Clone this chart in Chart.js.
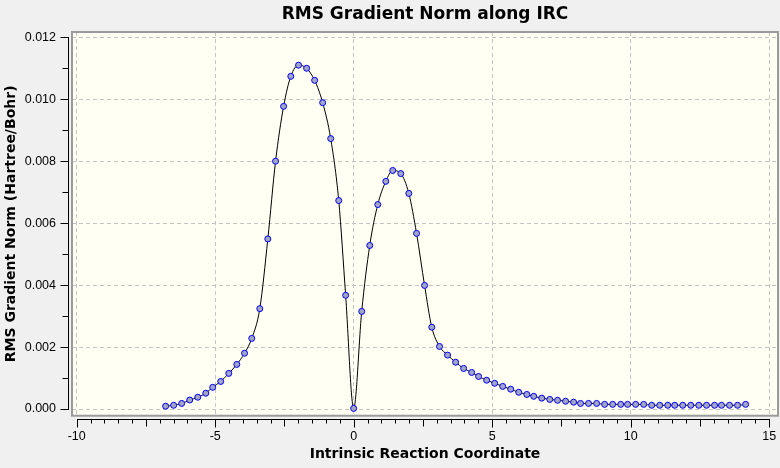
<!DOCTYPE html>
<html>
<head>
<title>RMS Gradient Norm along IRC</title>
<style>
    html, body {
        margin: 0;
        padding: 0;
        background-color: #f0f0f0;
    }
    #wrap {
        width: 780px;
        height: 468px;
    }
</style>
</head>
<body>
<div id="wrap"><canvas id="myChart" width="780" height="468"></canvas></div>
<script src="https://cdn.jsdelivr.net/npm/chart.js@4.4.0/dist/chart.umd.min.js"></script>
<script>

// values
var ircCoord = [-6.79, -6.50, -6.21, -5.92, -5.63, -5.34, -5.09, -4.80, -4.51, -4.22,
    -3.94, -3.68, -3.39, -3.10, -2.82, -2.53, -2.27, -1.99, -1.70, -1.41,
    -1.12, -0.83, -0.54, -0.29, 0.00, 0.29, 0.58, 0.87, 1.16, 1.41,
    1.70, 1.99, 2.27, 2.56, 2.82, 3.10, 3.39, 3.68, 3.97, 4.26,
    4.51, 4.80, 5.09, 5.38, 5.67, 5.96, 6.25, 6.50, 6.79, 7.08,
    7.36, 7.65, 7.94, 8.19, 8.48, 8.77, 9.06, 9.35, 9.64, 9.89,
    10.18, 10.47, 10.76, 11.05, 11.34, 11.59, 11.88, 12.17, 12.46, 12.74,
    13.03, 13.28, 13.57, 13.86, 14.15];
var gradNorm = [0.00009, 0.00012, 0.00018, 0.00029, 0.00038, 0.00051, 0.00070, 0.00089, 0.00115, 0.00144,
    0.00180, 0.00228, 0.00324, 0.00549, 0.00800, 0.00977, 0.01074, 0.01110, 0.01100, 0.01061,
    0.00989, 0.00873, 0.00673, 0.00367, 0.00002, 0.00315, 0.00528, 0.00660, 0.00735, 0.00770,
    0.00760, 0.00696, 0.00567, 0.00399, 0.00264, 0.00202, 0.00174, 0.00151, 0.00131, 0.00118,
    0.00105, 0.00093, 0.00083, 0.00073, 0.00064, 0.00054, 0.00047, 0.00041, 0.00035, 0.00031,
    0.00028, 0.00025, 0.00022, 0.00018, 0.00018, 0.00018, 0.00015, 0.00015, 0.00015, 0.00015,
    0.00015, 0.00015, 0.00012, 0.00012, 0.00012, 0.00012, 0.00012, 0.00012, 0.00012, 0.00012,
    0.00012, 0.00012, 0.00012, 0.00012, 0.00015];
var xTickValues = [-10, -5, 0, 5, 10, 15];
var yTickValues = [0, 0.002, 0.004, 0.006, 0.008, 0.010, 0.012];
var yTickLabels = ['0.000', '0.002', '0.004', '0.006', '0.008', '0.010', '0.012'];

var points = [];
for (var i = 0; i < ircCoord.length; i++) {
    points.push({x: ircCoord[i], y: gradNorm[i]});
}

var tickFont = {family: 'Liberation Sans', size: 12.5};
var titleFont = {family: 'DejaVu Sans', size: 14, weight: 'bold'};

// plot background, frame and the offset axes with their tick marks
var framePlugin = {
    id: 'frame',
    beforeDraw: function(chart) {
        var ctx = chart.ctx, a = chart.chartArea;
        ctx.save();
        ctx.fillStyle = '#f0f0f0';
        ctx.fillRect(0, 0, chart.width, chart.height);
        ctx.fillStyle = '#fffff4';
        ctx.fillRect(a.left, a.top, a.right - a.left, a.bottom - a.top);
        ctx.restore();
    },
    afterDraw: function(chart) {
        var ctx = chart.ctx, a = chart.chartArea;
        var xs = chart.scales.x, ys = chart.scales.y;
        ctx.save();
        ctx.strokeStyle = '#9a9a9a';
        ctx.lineWidth = 2;
        ctx.strokeRect(a.left, a.top, a.right - a.left, a.bottom - a.top);

        ctx.strokeStyle = '#000';
        ctx.lineWidth = 1;
        // x axis below the frame
        var ay = Math.round(a.bottom + 3) + 0.5;
        var xa = xs.getPixelForValue(xTickValues[0]);
        var xb = xs.getPixelForValue(xTickValues[xTickValues.length - 1]);
        ctx.beginPath();
        ctx.moveTo(Math.round(xa), ay);
        ctx.lineTo(Math.round(xb) + 1, ay);
        for (var k = 0; k <= 50; k++) {
            var v = xTickValues[0] + k * 0.5;
            var len = (k % 10 === 0) ? 8 : (k % 5 === 0 ? 7 : 4);
            var px = Math.round(xs.getPixelForValue(v)) + 0.5;
            ctx.moveTo(px, ay);
            ctx.lineTo(px, ay + len);
        }
        ctx.stroke();

        // y axis left of the frame
        var ax = Math.round(a.left - 4) + 0.5;
        var ya = ys.getPixelForValue(yTickValues[0]);
        var yb = ys.getPixelForValue(yTickValues[yTickValues.length - 1]);
        ctx.beginPath();
        ctx.moveTo(ax, Math.round(ya) + 1);
        ctx.lineTo(ax, Math.round(yb));
        for (var m = 0; m <= 12; m++) {
            var py = Math.round(ys.getPixelForValue(m * 0.001)) + 0.5;
            var l = (m % 2 === 0) ? 8 : 6;
            ctx.moveTo(ax, py);
            ctx.lineTo(ax - l, py);
        }
        ctx.stroke();
        ctx.restore();
    }
};

var config = {
    type: 'scatter',
    data: {
        datasets: [{
            label: 'RMS Gradient Norm',
            data: points,
            showLine: true,
            borderColor: '#000000',
            borderWidth: 1,
            cubicInterpolationMode: 'monotone',
            pointRadius: 3,
            pointBorderWidth: 1,
            pointBorderColor: '#0000ff',
            pointBackgroundColor: '#a2a6c0'
        }]
    },
    options: {
        responsive: false,
        animation: false,
        devicePixelRatio: 1,
        layout: {autoPadding: false, padding: {left: 0, right: 2, top: 0, bottom: 0}},
        plugins: {
            legend: {display: false},
            tooltip: {enabled: false},
            title: {
                display: true,
                fullSize: false,
                text: 'RMS Gradient Norm along IRC',
                color: '#000',
                font: {family: 'DejaVu Sans', size: 17, weight: 'bold'},
                padding: {top: 4, bottom: 7.6}
            }
        },
        scales: {
            x: {
                type: 'linear',
                min: -10.17,
                max: 15.32,
                afterBuildTicks: function(scale) {
                    scale.ticks = xTickValues.map(function(v) { return {value: v}; });
                },
                afterFit: function(scale) {
                    scale.height = 52.3;
                    scale.paddingLeft = 0;
                    scale.paddingRight = 0;
                },
                ticks: {
                    color: '#000',
                    font: tickFont,
                    padding: 0,
                    maxRotation: 0,
                    callback: function(v) { return String(v); }
                },
                grid: {color: '#c4c4c4', lineWidth: 1, drawTicks: true, tickLength: 13, tickColor: 'rgba(0,0,0,0)'},
                border: {display: false, dash: [4, 3]},
                title: {
                    display: true,
                    text: 'Intrinsic Reaction Coordinate',
                    color: '#000',
                    font: titleFont,
                    padding: {top: 0, bottom: 5}
                }
            },
            y: {
                type: 'linear',
                min: -0.000216,
                max: 0.012171,
                afterBuildTicks: function(scale) {
                    scale.ticks = yTickValues.map(function(v) { return {value: v}; });
                },
                afterFit: function(scale) {
                    scale.width = 72;
                    scale.paddingTop = 0;
                    scale.paddingBottom = 0;
                },
                ticks: {
                    color: '#000',
                    font: tickFont,
                    padding: 0,
                    callback: function(v, idx) { return yTickLabels[idx]; }
                },
                grid: {color: '#c4c4c4', lineWidth: 1, drawTicks: true, tickLength: 16, tickColor: 'rgba(0,0,0,0)'},
                border: {display: false, dash: [4, 3]},
                title: {
                    display: true,
                    text: 'RMS Gradient Norm (Hartree/Bohr)',
                    color: '#000',
                    font: titleFont,
                    padding: {top: 3, bottom: 0}
                }
            }
        }
    },
    plugins: [framePlugin]
};

window.onload = function() {
    var ctx = document.getElementById('myChart').getContext('2d');
    window.myLine = new Chart(ctx, config);
};
</script>
</body>
</html>
